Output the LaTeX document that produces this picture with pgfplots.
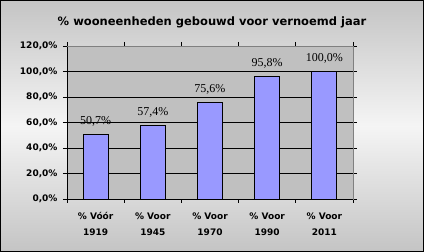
\documentclass[border=0pt]{standalone}
\usepackage{fontspec}
\setmainfont{DejaVu Sans}
\newfontfamily\seriffont{Liberation Serif}
\usepackage{pgfplots}
\pgfplotsset{compat=1.18}
\definecolor{barc}{HTML}{9999FF}
\definecolor{plotbg}{HTML}{C0C0C0}
\definecolor{bgc}{HTML}{C4C4C4}
\definecolor{bordg}{HTML}{808080}
\begin{document}
\begin{tikzpicture}
\shade[top color=bgc, bottom color=bgc, middle color=white!96!black] (0pt,0pt) rectangle (424pt,252pt);
\node[font=\bfseries\fontsize{11.5}{13}\selectfont] at (212pt,230pt) {\% wooneenheden gebouwd voor vernoemd jaar};
\begin{axis}[
  at={(67pt,53pt)}, anchor=south west,
  width=286pt, height=153pt, scale only axis,
  xmin=-0.5, xmax=4.5, ymin=0, ymax=120,
  ybar, bar width=25pt,
  clip=false,
  axis background/.style={fill=plotbg},
  axis line style={draw=bordg, line width=0.8pt},
  ytick={0,20,40,60,80,100,120},
  yticklabels={{0,0\%},{20,0\%},{40,0\%},{60,0\%},{80,0\%},{100,0\%},{120,0\%}},
  xtick={0,1,2,3,4},
  xticklabels={{\% Vóór\\1919},{\% Voor\\1945},{\% Voor\\1970},{\% Voor\\1990},{\% Voor\\2011}},
  minor xtick={-0.5,0.5,1.5,2.5,3.5,4.5},
  major x tick style={draw=none},
  minor x tick style={draw=black, line width=0.8pt},
  major y tick style={draw=black, line width=0.8pt},
  tick align=outside,
  major tick length=4pt, minor tick length=4pt,
  ymajorgrids, grid style={draw=black, line width=0.8pt},
  xticklabel style={align=center, font=\bfseries\fontsize{9}{16}\selectfont, yshift=-6pt},
  yticklabel style={font=\bfseries\fontsize{9}{11}\selectfont, xshift=-2pt},
  nodes near coords,
  point meta=explicit symbolic,
  nodes near coords style={font=\seriffont\fontsize{12}{14}\selectfont, text=black, inner sep=0pt, yshift=8pt},
]
\addplot[fill=barc, draw=black, line width=0.8pt] coordinates {
  (0,50.7) [50,7\%]
  (1,57.4) [57,4\%]
  (2,75.6) [75,6\%]
  (3,95.8) [95,8\%]
  (4,100.0) [100,0\%]
};
\draw[black, line width=0.8pt] (axis cs:-0.5,0) -- (axis cs:4.5,0);
\draw[black, line width=0.8pt] (axis cs:-0.5,0) -- (axis cs:-0.5,120);
\draw[bordg, line width=0.8pt] (axis cs:-0.5,120) -- (axis cs:4.5,120) -- (axis cs:4.5,0);
\end{axis}
\draw[black, line width=1pt] (0.5pt,0.5pt) rectangle (423.5pt,251.5pt);
\end{tikzpicture}
\end{document}
